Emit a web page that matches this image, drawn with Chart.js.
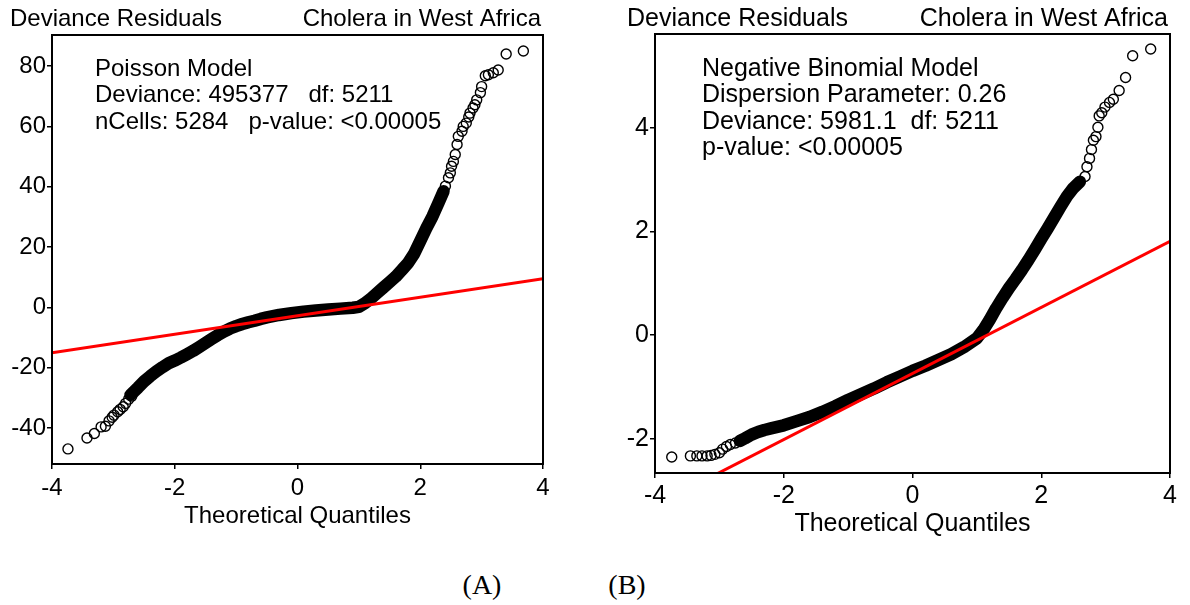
<!DOCTYPE html>
<html>
<head>
<meta charset="utf-8">
<script src="https://cdn.jsdelivr.net/npm/chart.js@4.4.1/dist/chart.umd.min.js"></script>
<style>
  html, body { margin: 0; padding: 0; background: #fff; }
  #wrap { position: relative; width: 1190px; height: 605px; overflow: hidden; }
  .panel { position: absolute; top: 0; height: 560px; }
  .cap { position: absolute; top: 569px; font-family: "Liberation Serif", "Times New Roman", serif; font-size: 28px; color: #000; transform: translateX(-50%); }
</style>
</head>
<body>
<div id="wrap">
  <div class="panel" style="left:0;width:600px"><canvas id="chartA" width="600" height="560"></canvas></div>
  <div class="panel" style="left:600px;width:590px"><canvas id="chartB" width="590" height="560"></canvas></div>
  <div class="cap" style="left:482px">(A)</div>
  <div class="cap" style="left:627px">(B)</div>
</div>
<script>
// ---------- axes ----------
const xTicks = [-4, -2, 0, 2, 4];
const yTicksA = [-40, -20, 0, 20, 40, 60, 80];
const yTicksB = [-2, 0, 2, 4];

// ---------- Poisson model (A) ----------
const poisLowX  = [-3.74, -3.43, -3.31, -3.20, -3.13, -3.07, -3.02, -2.99, -2.93, -2.89, -2.84, -2.80, -2.75, -2.70];
const poisLowY  = [-46.9, -43.3, -41.8, -39.6, -39.4, -37.6, -36.4, -35.7, -34.6, -33.8, -32.9, -31.8, -30.4, -29.4];
const poisBandX = [-2.72, -2.6, -2.5, -2.4, -2.3, -2.2, -2.1, -2.0, -1.9, -1.8, -1.7, -1.6, -1.5, -1.4, -1.3, -1.2, -1.1, -1.0, -0.9, -0.8, -0.7, -0.6, -0.5, -0.3, -0.1, 0.1, 0.3, 0.5, 0.7, 0.9, 1.0, 1.1, 1.2, 1.3, 1.4, 1.5, 1.6, 1.7, 1.8, 1.9, 2.0, 2.1, 2.2, 2.3, 2.38];
const poisBandY = [-29.0, -26.6, -24.5, -22.8, -21.2, -19.8, -18.5, -17.6, -16.6, -15.5, -14.4, -13.1, -11.8, -10.5, -9.2, -8.0, -7.0, -6.2, -5.5, -4.9, -4.4, -3.8, -3.3, -2.5, -1.9, -1.4, -1.0, -0.7, -0.4, -0.1, 0.2, 1.4, 3.0, 4.8, 6.6, 8.4, 10.2, 12.4, 14.7, 17.8, 22.0, 26.3, 30.2, 34.8, 38.5];
const poisHighX = [2.41, 2.46, 2.49, 2.51, 2.54, 2.57, 2.60, 2.62, 2.68, 2.70, 2.75, 2.79, 2.81, 2.86, 2.89, 2.92, 2.98, 3.00, 3.06, 3.11, 3.19, 3.27, 3.40, 3.68];
const poisHighY = [40.2, 43.0, 44.6, 46.8, 48.4, 50.7, 54.0, 56.7, 58.4, 60.0, 61.1, 63.1, 64.4, 66.1, 67.2, 68.8, 71.2, 73.2, 76.8, 77.1, 77.8, 78.7, 84.0, 85.0];
const poisLineX = [-4, 4];
const poisLineY = [-15.0, 9.5];
const poisText = ['Poisson Model', 'Deviance: 495377   df: 5211', 'nCells: 5284   p-value: <0.00005'];

// ---------- Negative binomial model (B) ----------
const nbLowX  = [-3.74, -3.45, -3.35, -3.27, -3.19, -3.13, -3.07, -3.00, -2.95, -2.89, -2.83, -2.75];
const nbLowY  = [-2.35, -2.33, -2.33, -2.33, -2.33, -2.32, -2.30, -2.27, -2.20, -2.15, -2.11, -2.08];
const nbBandX = [-2.68, -2.6, -2.5, -2.4, -2.3, -2.2, -2.1, -2.0, -1.8, -1.6, -1.4, -1.2, -1.0, -0.8, -0.6, -0.4, -0.2, 0.0, 0.2, 0.4, 0.6, 0.8, 1.0, 1.1, 1.2, 1.3, 1.4, 1.5, 1.6, 1.7, 1.8, 1.9, 2.0, 2.1, 2.2, 2.3, 2.4, 2.5, 2.6];
const nbBandY = [-2.04, -1.99, -1.92, -1.87, -1.83, -1.80, -1.77, -1.74, -1.66, -1.58, -1.48, -1.37, -1.25, -1.14, -1.03, -0.91, -0.80, -0.69, -0.59, -0.48, -0.37, -0.23, -0.06, 0.10, 0.30, 0.52, 0.72, 0.91, 1.08, 1.26, 1.45, 1.65, 1.86, 2.06, 2.27, 2.48, 2.68, 2.84, 2.96];
const nbHighX = [2.68, 2.71, 2.75, 2.78, 2.81, 2.85, 2.88, 2.90, 2.94, 2.99, 3.06, 3.12, 3.21, 3.31, 3.42, 3.70];
const nbHighY = [3.06, 3.25, 3.41, 3.58, 3.76, 3.83, 4.01, 4.23, 4.29, 4.40, 4.49, 4.55, 4.72, 4.97, 5.39, 5.52];
const nbLineX = [-4, 4];
const nbLineY = [-3.29, 1.81];
const nbText = ['Negative Binomial Model', 'Dispersion Parameter: 0.26', 'Deviance: 5981.1  df: 5211', 'p-value: <0.00005'];

const SANS = '"Liberation Sans", Arial, sans-serif';

function pts(xs, ys) {
    return xs.map((x, i) => ({ x: x, y: ys[i] }));
}

// box round the plot + the texts
const panelText = {
    id: 'panelText',
    afterDraw(chart, args, opts) {
        const { ctx, chartArea: a } = chart;
        ctx.save();
        ctx.strokeStyle = '#000';
        ctx.lineWidth = 2;
        ctx.strokeRect(a.left, a.top, a.right - a.left, a.bottom - a.top);
        ctx.fillStyle = '#000';
        ctx.textBaseline = 'middle';
        ctx.font = opts.size + 'px ' + SANS;
        ctx.textAlign = 'left';
        ctx.fillText('Deviance Residuals', opts.titleX, 19);
        ctx.textAlign = 'right';
        ctx.fillText('Cholera in West Africa', a.right - 2, 19);
        ctx.textAlign = 'left';
        opts.lines.forEach((t, i) => ctx.fillText(t, opts.textX, opts.textY + i * opts.step));
        ctx.textAlign = 'center';
        ctx.fillText('Theoretical Quantiles', (a.left + a.right) / 2, opts.xTitleY);
        ctx.restore();
    }
};

function makeChart(id, d) {
    const tickFont = { family: SANS, size: d.text.size };
    return new Chart(document.getElementById(id), {
        type: 'scatter',
        data: {
            datasets: [
                { data: d.line, showLine: true, borderColor: '#ff0000', borderWidth: 3, pointRadius: 0 },
                { data: d.band, showLine: true, borderColor: '#000', borderWidth: 12.5, pointRadius: 0,
                  borderCapStyle: 'round', borderJoinStyle: 'round' },
                { data: d.low, pointRadius: 5, borderWidth: 1.4, borderColor: '#000', backgroundColor: 'rgba(0,0,0,0)' },
                { data: d.high, pointRadius: 5, borderWidth: 1.4, borderColor: '#000', backgroundColor: 'rgba(0,0,0,0)' }
            ]
        },
        options: {
            responsive: false,
            animation: false,
            layout: { padding: { left: 0, top: d.top, right: d.right, bottom: 0 } },
            plugins: {
                legend: { display: false },
                tooltip: { enabled: false },
                panelText: d.text
            },
            scales: {
                x: {
                    type: 'linear', min: -4, max: 4,
                    afterBuildTicks: s => { s.ticks = xTicks.map(v => ({ value: v })); },
                    afterFit: s => { s.height = d.xH; },
                    ticks: { font: tickFont, color: '#000', padding: d.xPad, maxRotation: 0 },
                    grid: { drawOnChartArea: false, drawTicks: true, tickLength: 5, color: '#000', lineWidth: 1.5 },
                    border: { display: true, color: '#000', width: 2 }
                },
                y: {
                    type: 'linear', min: d.ymin, max: d.ymax,
                    afterBuildTicks: s => { s.ticks = d.yTicks.map(v => ({ value: v })); },
                    afterFit: s => { s.width = d.yW; },
                    ticks: { font: tickFont, color: '#000', padding: 1 },
                    grid: { drawOnChartArea: false, drawTicks: true, tickLength: 5, color: '#000', lineWidth: 1.5 },
                    border: { display: true, color: '#000', width: 2 }
                }
            }
        },
        plugins: [panelText]
    });
}

makeChart('chartA', {
    line: pts(poisLineX, poisLineY),
    band: pts(poisBandX, poisBandY),
    low: pts(poisLowX, poisLowY),
    high: pts(poisHighX, poisHighY),
    yTicks: yTicksA, ymin: -51.9, ymax: 90.3,
    top: 35, right: 57, xH: 96, yW: 52, xPad: 5,
    text: { size: 24, titleX: 10, textX: 95, textY: 69, step: 26.5, lines: poisText, xTitleY: 516 }
});

makeChart('chartB', {
    line: pts(nbLineX, nbLineY),
    band: pts(nbBandX, nbBandY),
    low: pts(nbLowX, nbLowY),
    high: pts(nbHighX, nbHighY),
    yTicks: yTicksB, ymin: -2.66, ymax: 5.81,
    top: 34, right: 20, xH: 87, yW: 55, xPad: 3,
    text: { size: 25, titleX: 27, textX: 102, textY: 69, step: 26.5, lines: nbText, xTitleY: 524 }
});
</script>
</body>
</html>
